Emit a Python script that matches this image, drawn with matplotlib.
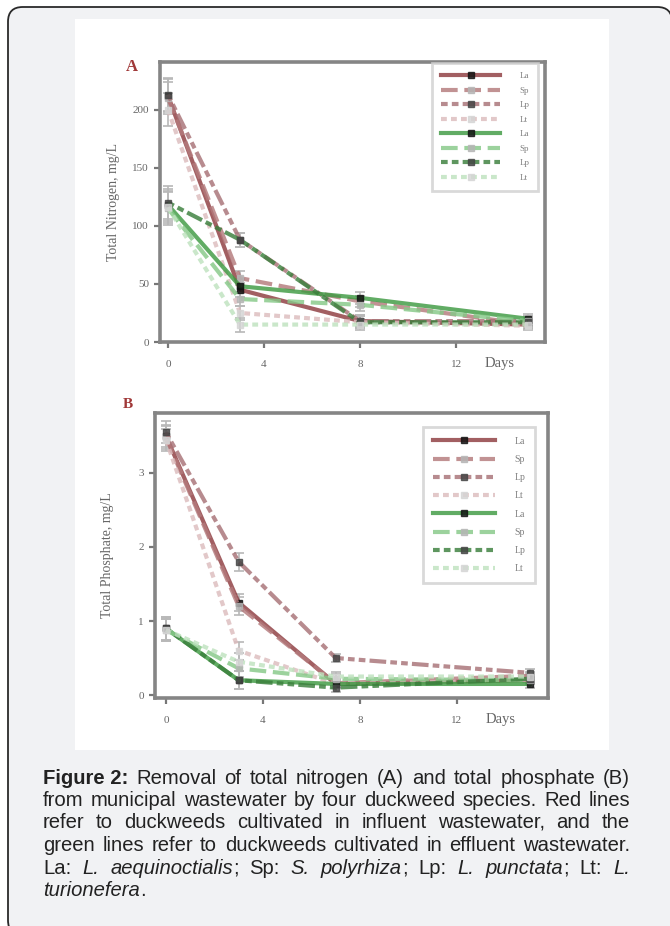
import matplotlib
matplotlib.use("Agg")
import matplotlib.pyplot as plt
from matplotlib.patches import FancyBboxPatch, Rectangle

# ---------------- data ----------------
species = ["La", "Sp", "Lp", "Lt"]

days_A = [0, 3, 8, 15]
tn_influent = [[212, 45, 18, 15],
               [210, 55, 35, 15],
               [213, 88, 18, 18],
               [200, 25, 17, 14]]
tn_effluent = [[118, 48, 38, 20],
               [115, 37, 32, 18],
               [120, 88, 17, 17],
               [116, 15, 15, 15]]
tn_err = [14, 6, 5, 4]

days_B = [0, 3, 7, 15]
tp_influent = [[3.50, 1.25, 0.15, 0.20],
               [3.48, 1.20, 0.16, 0.26],
               [3.55, 1.80, 0.50, 0.30],
               [3.45, 0.60, 0.15, 0.20]]
tp_effluent = [[0.90, 0.20, 0.15, 0.15],
               [0.88, 0.36, 0.22, 0.20],
               [0.90, 0.20, 0.10, 0.22],
               [0.88, 0.45, 0.25, 0.25]]
tp_err = [0.15, 0.12, 0.06, 0.05]

xticks = [0, 4, 8, 12]
yticks_A = [0, 50, 100, 150, 200]
yticks_B = [0, 1, 2, 3]

caption_lines = [
    [[("Figure 2:", "bold", "normal")], [("Removal", "normal", "normal")], [("of", "normal", "normal")],
     [("total", "normal", "normal")], [("nitrogen", "normal", "normal")], [("(A)", "normal", "normal")],
     [("and", "normal", "normal")], [("total", "normal", "normal")], [("phosphate", "normal", "normal")],
     [("(B)", "normal", "normal")]],
    [[(w, "normal", "normal")] for w in "from municipal wastewater by four duckweed species. Red lines".split()],
    [[(w, "normal", "normal")] for w in "refer to duckweeds cultivated in influent wastewater, and the".split()],
    [[(w, "normal", "normal")] for w in "green lines refer to duckweeds cultivated in effluent wastewater.".split()],
    [[("La:", "normal", "normal")], [("L.", "normal", "italic")], [("aequinoctialis", "normal", "italic"), (";", "normal", "normal")],
     [("Sp:", "normal", "normal")], [("S.", "normal", "italic")], [("polyrhiza", "normal", "italic"), (";", "normal", "normal")],
     [("Lp:", "normal", "normal")], [("L.", "normal", "italic")], [("punctata", "normal", "italic"), (";", "normal", "normal")],
     [("Lt:", "normal", "normal")], [("L.", "normal", "italic")]],
    [[("turionefera", "normal", "italic"), (".", "normal", "normal")]],
]

# ---------------- style ----------------
W, H = 670, 926
fig = plt.figure(figsize=(W / 100, H / 100), dpi=100)
fig.patch.set_facecolor("white")


def fx(x):
    return x / W


def fy(y):
    return 1 - y / H


# card
card = FancyBboxPatch((fx(8), fy(935)), fx(672) - fx(8), fy(7) - fy(935),
                      boxstyle="round,pad=0,rounding_size=0.022",
                      transform=fig.transFigure, facecolor="#f1f2f4",
                      edgecolor="#2a2a2a", linewidth=1.3, zorder=-3,
                      mutation_aspect=W / H)
fig.patches.append(card)
panel = Rectangle((fx(75), fy(750)), fx(609) - fx(75), fy(19) - fy(750),
                  transform=fig.transFigure, facecolor="white", edgecolor="none", zorder=-2)
fig.patches.append(panel)

red_colors = ["#8e3c40", "#b47a7c", "#a87276", "#dcbcbd"]
green_colors = ["#3e9a42", "#86c988", "#3a7f3c", "#bfe2bf"]
linestyles = ["-", (0, (4, 1.6)), (0, (1.6, 1, 1.6, 1, 4, 1)), (0, (1.4, 1))]
marker_fc = ["#111111", "#b5b5b5", "#444444", "#d5d5d5"]
serif = ["Liberation Serif", "DejaVu Serif"]


def style_axes(ax, yticks, ylabel, xlim, ylim):
    ax.set_xlim(*xlim)
    ax.set_ylim(*ylim)
    ax.set_xticks(xticks)
    ax.set_yticks(yticks)
    ax.set_xticklabels([str(t) for t in xticks], fontfamily=serif, fontsize=8, color="#666666")
    ax.set_yticklabels([str(t) for t in yticks], fontfamily=serif, fontsize=8, color="#666666")
    for s in ax.spines.values():
        s.set_color("#858585")
        s.set_linewidth(2.6)
    ax.tick_params(axis="both", direction="out", length=4, width=1.6, color="#777777")
    ax.tick_params(axis="x", pad=9)
    ax.tick_params(axis="y", pad=4)
    ax.set_ylabel(ylabel, fontfamily=serif, fontsize=10, color="#666666")
    ax.yaxis.set_label_coords(-0.104, 0.5)
    ax.annotate("Days", xy=(13.8, 0), xycoords=("data", "axes fraction"),
                xytext=(0, -15.5), textcoords="offset points", ha="center", va="center",
                fontfamily=serif, fontsize=10.5, color="#666666", annotation_clip=False)


def draw_panel(ax, days, inf, eff, err):
    handles = []
    for group, colors in ((inf, red_colors), (eff, green_colors)):
        for i, vals in enumerate(group):
            ax.errorbar(days, vals, yerr=err, fmt="none", ecolor="#b8b8b8",
                        elinewidth=1.2, capsize=3.5, capthick=1.2, zorder=2)
            ln, = ax.plot(days, vals, color=colors[i], linestyle=linestyles[i], linewidth=3,
                          alpha=0.82, marker="s", markersize=3.8,
                          markerfacecolor=marker_fc[i], markeredgecolor=marker_fc[i], zorder=3)
            handles.append(ln)
    return handles


def style_legend(leg):
    leg.get_frame().set_edgecolor("#d0d0d0")
    leg.get_frame().set_linewidth(2)
    for t in leg.get_texts():
        t.set_color("#808080")


# ---- panel A ----
axA = fig.add_axes([fx(160), fy(342), (545 - 160) / W, (342 - 62) / H])
hA = draw_panel(axA, days_A, tn_influent, tn_effluent, tn_err)
style_axes(axA, yticks_A, "Total Nitrogen, mg/L", (-0.33, 15.7), (0, 241))
legA = axA.legend(hA, species * 2, loc="upper left", bbox_to_anchor=(0.706, 0.996),
                  borderaxespad=0, handlelength=6.6, handletextpad=2.1,
                  labelspacing=0.68, numpoints=1, frameon=True, fancybox=False,
                  borderpad=1.0, prop={"family": serif, "size": 6.5})
style_legend(legA)
fig.text(fx(132), fy(67), "A", fontfamily=serif, fontweight="bold", fontsize=12,
         color="#a03838", ha="center", va="center")

# ---- panel B ----
axB = fig.add_axes([fx(155), fy(698), (548 - 155) / W, (698 - 413) / H])
hB = draw_panel(axB, days_B, tp_influent, tp_effluent, tp_err)
style_axes(axB, yticks_B, "Total Phosphate, mg/L", (-0.45, 15.75), (-0.04, 3.81))
legB = axB.legend(hB, species * 2, loc="upper left", bbox_to_anchor=((423 - 155) / 393, (698 - 427) / 285),
                  borderaxespad=0, handlelength=6.4, handletextpad=2.0,
                  labelspacing=0.95, numpoints=1, frameon=True, fancybox=False,
                  borderpad=1.0, prop={"family": serif, "size": 7})
style_legend(legB)
fig.text(fx(128), fy(405), "B", fontfamily=serif, fontweight="bold", fontsize=11,
         color="#a03838", ha="center", va="center")

# ---- caption (justified) ----
cap_font = ["Liberation Sans", "DejaVu Sans"]
cap_size = 14.6
x_left, x_right = 43, 630
line_y = [778, 800.5, 823, 845.5, 868, 890.5]

renderer = fig.canvas.get_renderer()


def seg_width(text, weight, style):
    t = fig.text(0, 0, text, fontfamily=cap_font, fontsize=cap_size, fontweight=weight, fontstyle=style)
    w = t.get_window_extent(renderer).width
    t.remove()
    return w


space_w = seg_width("a b", "normal", "normal") - seg_width("ab", "normal", "normal")

for li, words in enumerate(caption_lines):
    widths = [sum(seg_width(*s) for s in wd) for wd in words]
    total = sum(widths)
    if li < len(caption_lines) - 1 and len(words) > 1:
        gap = (x_right - x_left - total) / (len(words) - 1)
    else:
        gap = space_w
    x = x_left
    for wd, ww in zip(words, widths):
        xx = x
        for (txt, weight, style) in wd:
            fig.text(fx(xx), fy(line_y[li]), txt, fontfamily=cap_font, fontsize=cap_size,
                     fontweight=weight, fontstyle=style, color="#222222", ha="left", va="center")
            xx += seg_width(txt, weight, style)
        x += ww + gap

fig.savefig("out.png", dpi=100, facecolor=fig.get_facecolor())
